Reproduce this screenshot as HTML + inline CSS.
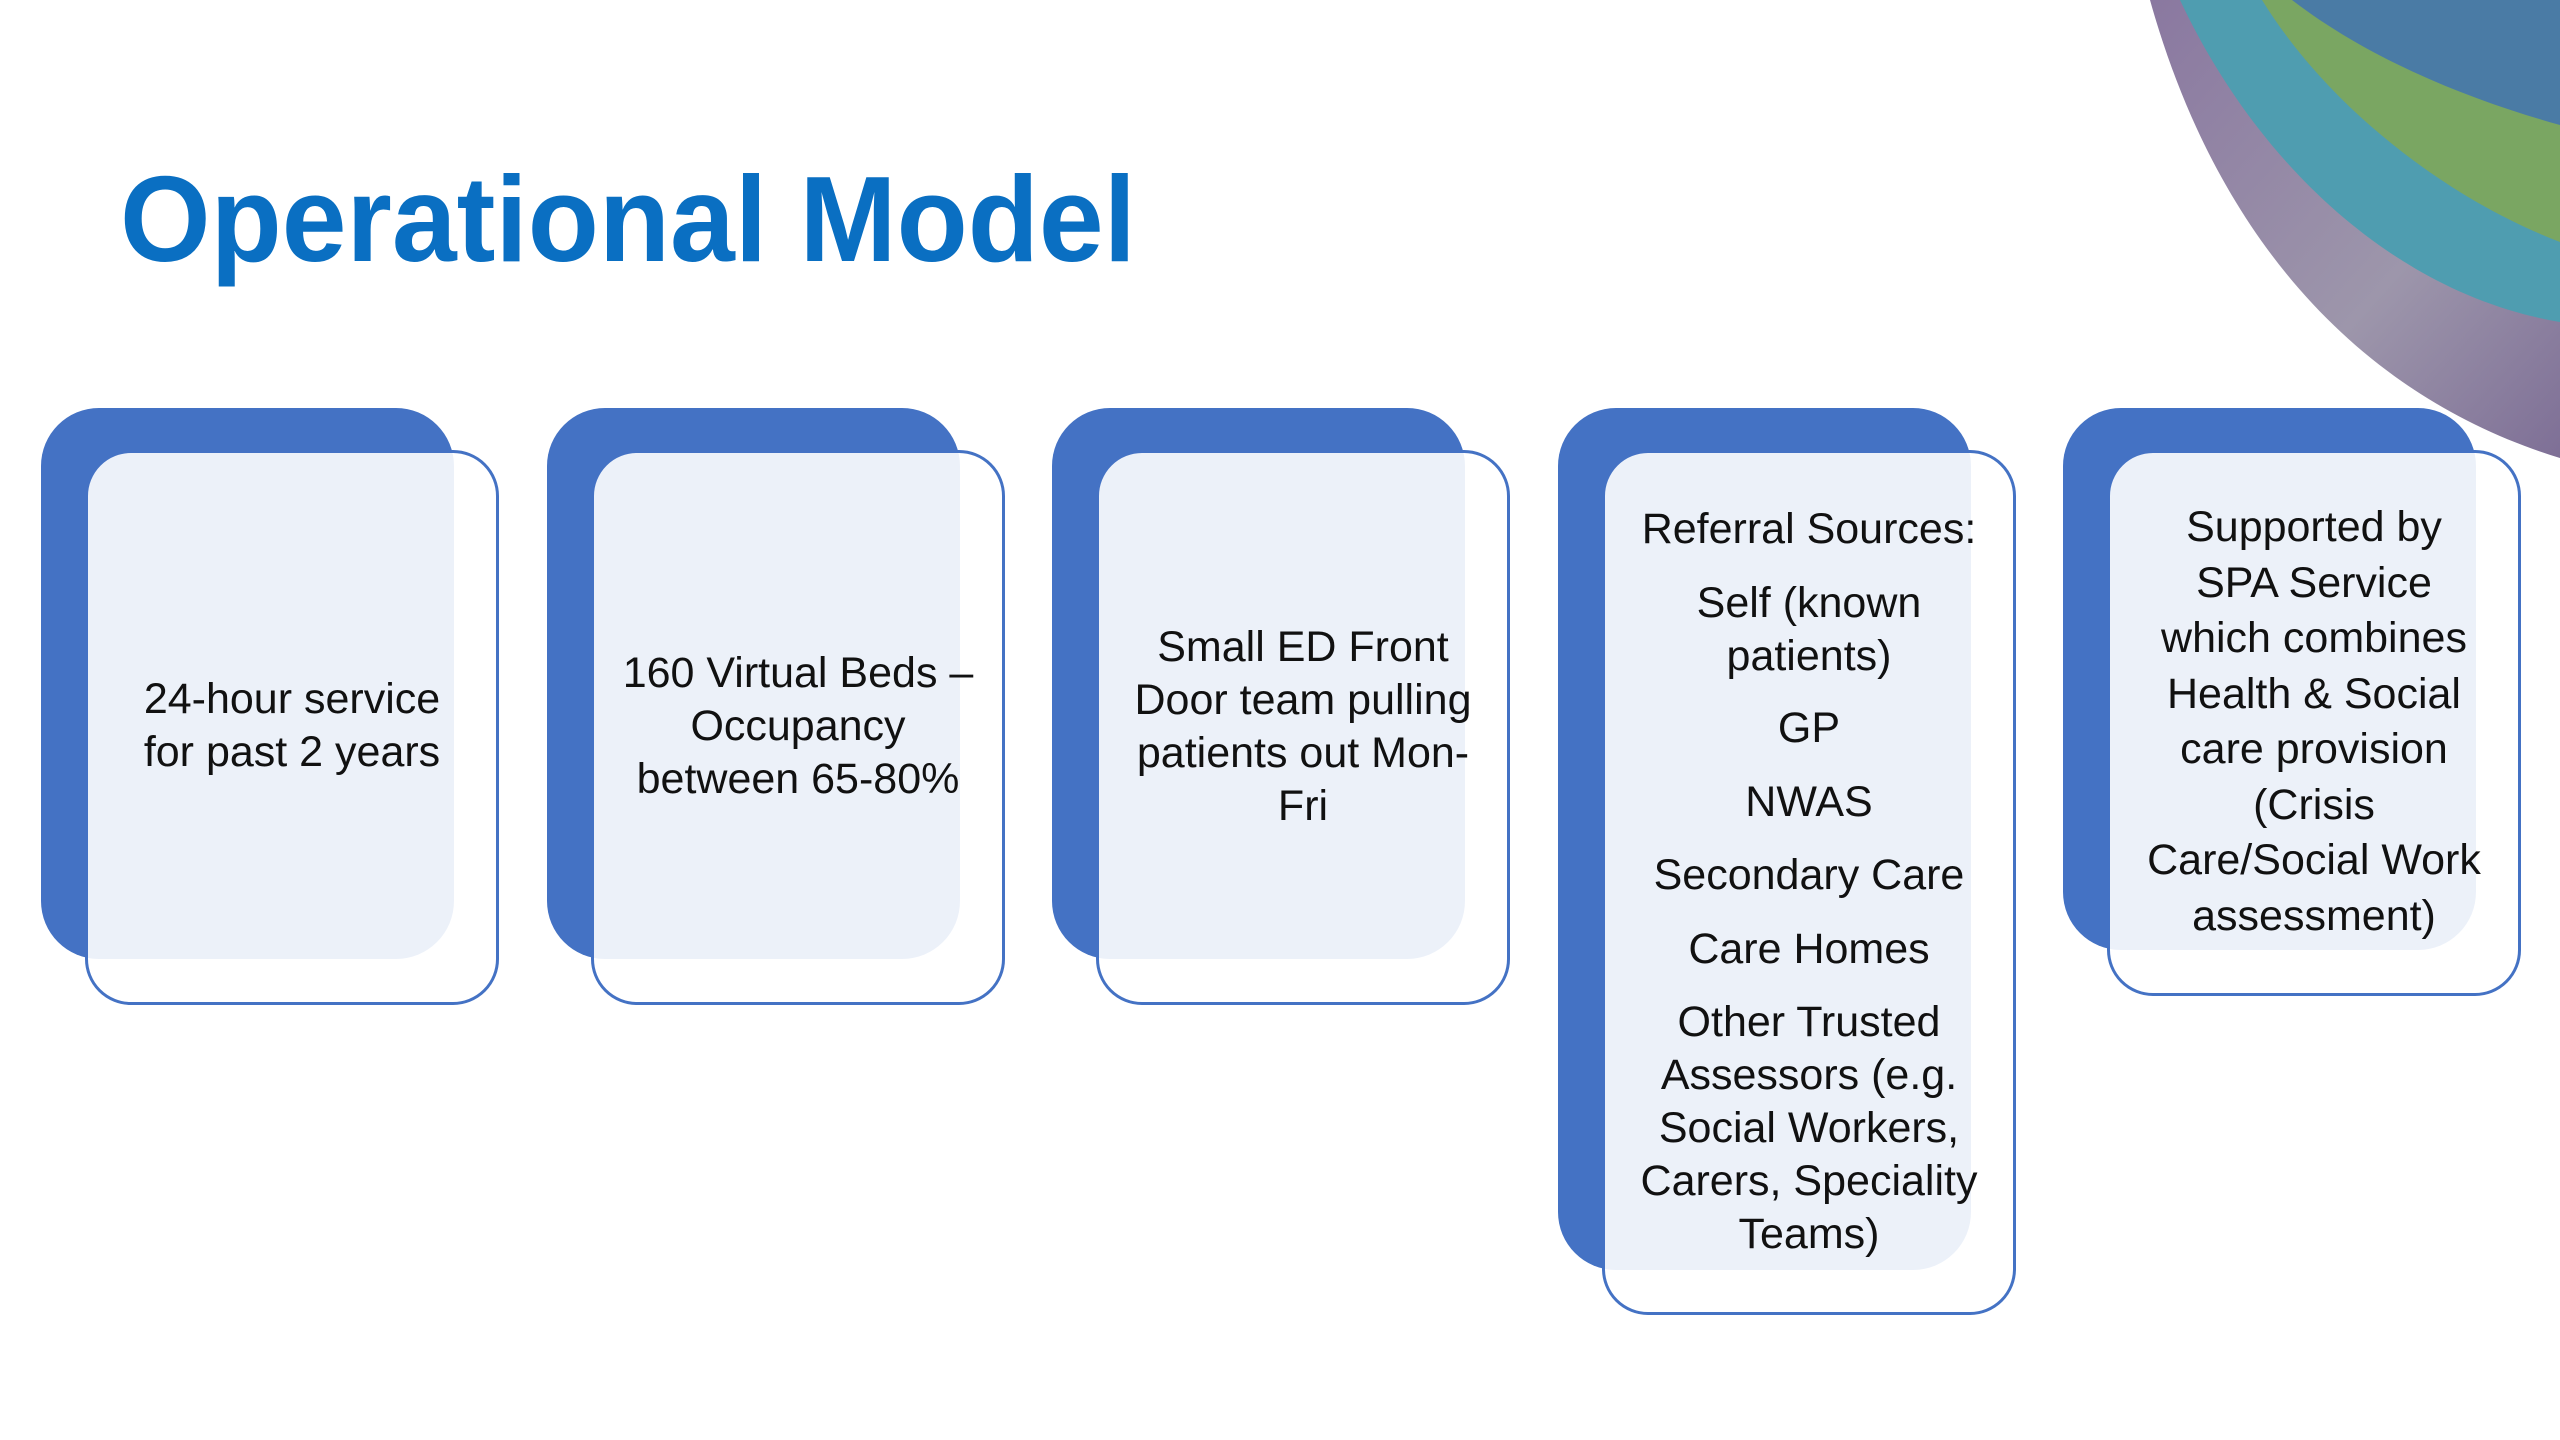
<!DOCTYPE html>
<html><head><meta charset="utf-8"><style>
html,body{margin:0;padding:0;background:#fff;}
body{width:2560px;height:1440px;position:relative;overflow:hidden;font-family:"Liberation Sans",sans-serif;}
.b{position:absolute;background:#4472c4;border-radius:58px;}
.f{position:absolute;background:rgba(255,255,255,0.9);border:3px solid #4472c4;border-radius:46px;box-sizing:border-box;}
.t{position:absolute;text-align:center;font-size:43px;line-height:53px;color:#111;white-space:nowrap;}
</style></head><body>
<svg width="2560" height="1440" style="position:absolute;left:0;top:0">
<defs><linearGradient id="pg" x1="0" y1="0" x2="1" y2="1"><stop offset="0" stop-color="#8a78a0"/><stop offset="0.6" stop-color="#9d96ab"/><stop offset="1" stop-color="#7e6f96"/></linearGradient></defs>
<path d="M2150,0 C2220,250 2370,400 2560,458 L2560,0Z" fill="url(#pg)"/>
<path d="M2180,0 C2260,170 2400,295 2560,322 L2560,0Z" fill="#4f9db0"/>
<path d="M2262,0 C2330,110 2450,200 2560,242 L2560,0Z" fill="#7aa662"/>
<path d="M2292,0 C2370,60 2470,100 2560,125 L2560,0Z" fill="#4a7ba5"/>
<text x="120" y="261" font-family="Liberation Sans" font-weight="bold" font-size="122" fill="#0a6fc2" textLength="1016" lengthAdjust="spacingAndGlyphs">Operational Model</text>
</svg>

<div class="b" style="left:41px;top:408px;width:413px;height:551px"></div>
<div class="f" style="left:85px;top:450px;width:414px;height:555px"></div>
<div class="t" style="left:85px;width:414px;top:673px">24-hour service<br>for past 2 years</div>

<div class="b" style="left:547px;top:408px;width:413px;height:551px"></div>
<div class="f" style="left:591px;top:450px;width:414px;height:555px"></div>
<div class="t" style="left:591px;width:414px;top:647px">160 Virtual Beds –<br>Occupancy<br>between 65-80%</div>

<div class="b" style="left:1052px;top:408px;width:413px;height:551px"></div>
<div class="f" style="left:1096px;top:450px;width:414px;height:555px"></div>
<div class="t" style="left:1096px;width:414px;top:621px">Small ED Front<br>Door team pulling<br>patients out Mon-<br>Fri</div>

<div class="b" style="left:1558px;top:408px;width:413px;height:862px"></div>
<div class="f" style="left:1602px;top:450px;width:414px;height:865px"></div>
<div class="t" style="left:1602px;width:414px;top:503px">Referral Sources:</div>
<div class="t" style="left:1602px;width:414px;top:577px">Self (known<br>patients)</div>
<div class="t" style="left:1602px;width:414px;top:702px">GP</div>
<div class="t" style="left:1602px;width:414px;top:776px">NWAS</div>
<div class="t" style="left:1602px;width:414px;top:849px">Secondary Care</div>
<div class="t" style="left:1602px;width:414px;top:923px">Care Homes</div>
<div class="t" style="left:1602px;width:414px;top:996px">Other Trusted<br>Assessors (e.g.<br>Social Workers,<br>Carers, Speciality<br>Teams)</div>

<div class="b" style="left:2063px;top:408px;width:413px;height:542px"></div>
<div class="f" style="left:2107px;top:450px;width:414px;height:546px"></div>
<div class="t" style="left:2107px;width:414px;top:500px;line-height:55.5px">Supported by<br>SPA Service<br>which combines<br>Health &amp; Social<br>care provision<br>(Crisis<br>Care/Social Work<br>assessment)</div>
</body></html>
